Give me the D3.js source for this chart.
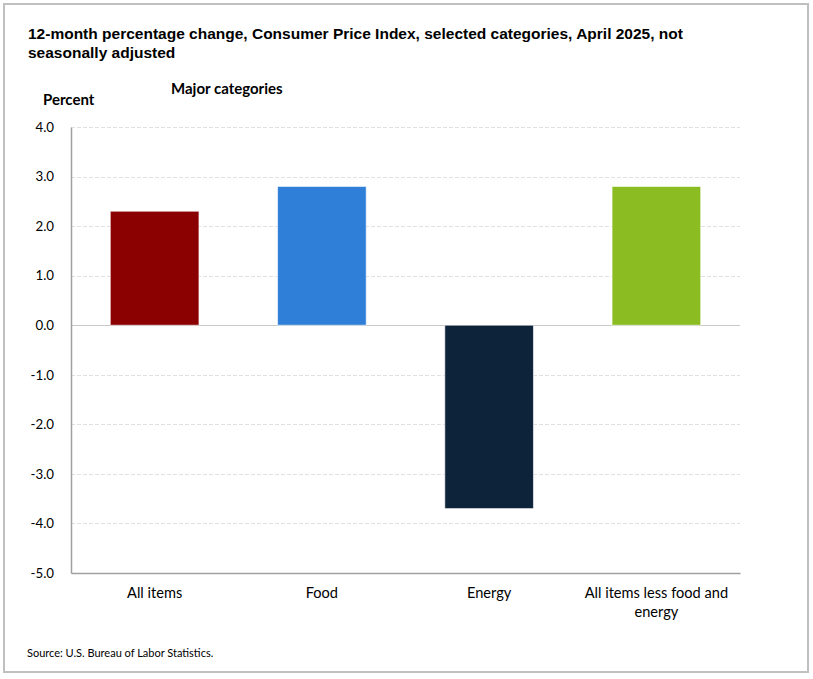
<!DOCTYPE html>
<html>
<head>
<meta charset="utf-8">
<script src="https://cdn.jsdelivr.net/npm/d3@7"></script>
<style>
  body { margin: 0; background: #fff; }
  svg text { fill: #000; }
</style>
</head>
<body>
<div id="chart"></div>
<script>
// values, April 2025
var categories = ["All items", "Food", "Energy", "All items less food and energy"];
var values = [2.3, 2.8, -3.7, 2.8];
var barColors = ["#8b0000", "#2f7ed8", "#0d233a", "#8bbc21"];
var tickValues = [4, 3, 2, 1, 0, -1, -2, -3, -4, -5];

var W = 813, H = 679;
var plot = {left: 71, right: 740, top: 127, bottom: 573};
var labelFont = "Lato, 'Open Sans', sans-serif";

var svg = d3.select("#chart").append("svg").attr("width", W).attr("height", H);

// frame round the whole chart
svg.append("rect")
  .attr("x", 4).attr("y", 4)
  .attr("width", 804).attr("height", 668)
  .attr("fill", "#fff")
  .attr("stroke", "#c0c0c0")
  .attr("stroke-width", 2);

svg.append("text")
  .attr("x", 28).attr("y", 39)
  .attr("font-family", "'Liberation Sans', Arial, sans-serif")
  .attr("font-weight", "bold").attr("font-size", 15.5)
  .text("12-month percentage change, Consumer Price Index, selected categories, April 2025, not");
svg.append("text")
  .attr("x", 28).attr("y", 58)
  .attr("font-family", "'Liberation Sans', Arial, sans-serif")
  .attr("font-weight", "bold").attr("font-size", 15.5)
  .text("seasonally adjusted");

svg.append("text")
  .attr("x", 171).attr("y", 94)
  .attr("font-family", labelFont).attr("font-weight", "bold").attr("font-size", 15)
  .text("Major categories");
svg.append("text")
  .attr("x", 43).attr("y", 105)
  .attr("font-family", labelFont).attr("font-weight", "bold").attr("font-size", 15)
  .text("Percent");

var x = d3.scaleBand()
  .domain(categories)
  .range([plot.left, plot.right])
  .paddingInner(0.47)
  .paddingOuter(0.235);

var y = d3.scaleLinear()
  .domain([-5, 4])
  .range([plot.bottom, plot.top]);

// gridlines
svg.append("g")
  .selectAll("line")
  .data(tickValues.filter(function(d){ return d != 0 && d != -5; }))
  .enter().append("line")
  .attr("x1", plot.left).attr("x2", plot.right)
  .attr("y1", function(d){ return Math.round(y(d)) + 0.5; })
  .attr("y2", function(d){ return Math.round(y(d)) + 0.5; })
  .attr("stroke", "#e0e0e0")
  .attr("stroke-dasharray", "4,2");

// zero line
svg.append("line")
  .attr("x1", plot.left).attr("x2", plot.right)
  .attr("y1", Math.round(y(0)) + 0.5).attr("y2", Math.round(y(0)) + 0.5)
  .attr("stroke", "#c8c8c8");

// bars
svg.append("g")
  .selectAll("rect")
  .data(values)
  .enter().append("rect")
  .attr("x", function(d, i){ return x(categories[i]); })
  .attr("width", x.bandwidth())
  .attr("y", function(d){ return y(Math.max(0, d)); })
  .attr("height", function(d){ return Math.abs(y(d) - y(0)); })
  .attr("fill", function(d, i){ return barColors[i]; })
  .attr("stroke", "#fff")
  .attr("stroke-opacity", 0.6)
  .attr("stroke-width", 1);

// y axis
var yAxis = svg.append("g")
  .attr("transform", "translate(" + plot.left + ",0)")
  .call(d3.axisLeft(y).tickValues(tickValues).tickSize(0).tickPadding(17).tickFormat(d3.format(".1f")));
yAxis.select(".domain").attr("stroke", "#a0a0a0").attr("stroke-width", 1.5);
yAxis.selectAll("text")
  .attr("font-family", labelFont).attr("font-size", 13.3).attr("fill", "#000")
  .text(function(d){ return d3.format(".1f")(d).replace("\u2212", "-"); });

// x axis
var xAxis = svg.append("g")
  .attr("transform", "translate(0," + plot.bottom + ")")
  .call(d3.axisBottom(x).tickSize(0).tickPadding(0).tickFormat(""));
xAxis.select(".domain").attr("stroke", "#a0a0a0").attr("stroke-width", 1.5);

// category labels, wrapped like the original
var wrapped = {"All items less food and energy": ["All items less food and", "energy"]};
xAxis.selectAll(".tick").each(function(d){
  var lines = wrapped[d] || [d];
  var t = d3.select(this).append("text")
    .attr("text-anchor", "middle")
    .attr("font-family", labelFont).attr("font-size", 14.6)
    .attr("fill", "#000");
  lines.forEach(function(l, k){
    t.append("tspan").attr("x", 0).attr("y", 25 + k * 19).text(l);
  });
});

svg.append("text")
  .attr("x", 27).attr("y", 657)
  .attr("font-family", labelFont).attr("font-size", 11)
  .text("Source: U.S. Bureau of Labor Statistics.");
</script>
</body>
</html>
